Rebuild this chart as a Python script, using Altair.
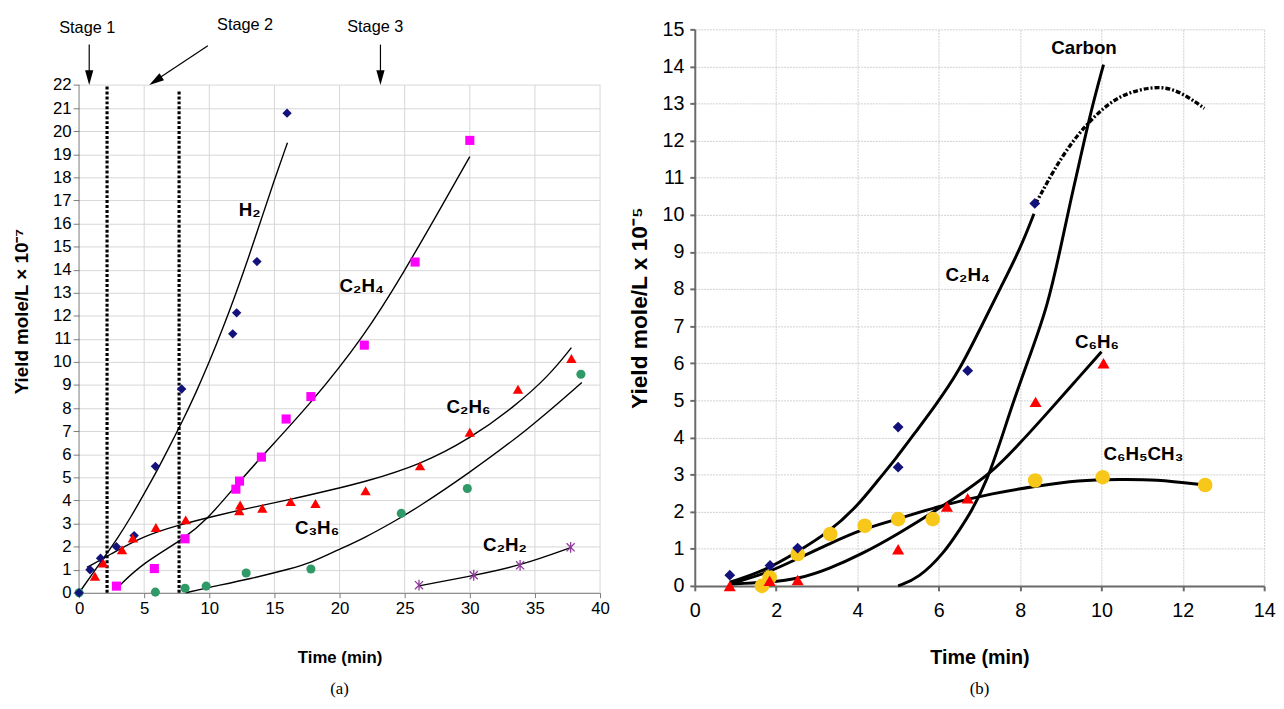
import altair as alt
import pandas as pd

FONT = "Liberation Sans"
SERIF = "Liberation Serif"

NAVY = "#12127a"
MAGENTA = "#ff00ff"
RED = "#ff0000"
GREEN = "#2f9a68"
PURPLE = "#8e3a9a"
YELLOW = "#f7c81a"
GRID = "#d6d6d6"

# ---------------- Panel (a) data ----------------
A_XTICKS = [0, 5, 10, 15, 20, 25, 30, 35, 40]
A_XGRID = [5, 10, 15, 20, 25, 30, 35, 40]
A_YTICKS = list(range(0, 23))
A_YMAX = 22
A_YTOP = 24.41  # room above the frame for the stage annotations

A_H2_X = [0, 0.84, 1.65, 2.87, 4.23, 5.86, 7.88, 11.8, 12.1, 13.66, 15.97]
A_H2_Y = [0, 1.0, 1.5, 2.0, 2.48, 5.48, 8.83, 11.22, 12.13, 14.35, 20.78]

A_C2H4_X = [2.87, 5.78, 8.14, 12.04, 12.32, 14.0, 15.9, 17.8, 21.9, 25.8, 30.0]
A_C2H4_Y = [0.29, 1.05, 2.34, 4.49, 4.84, 5.88, 7.53, 8.5, 10.73, 14.33, 19.6]

A_C2H6_X = [1.22, 1.85, 3.3, 4.13, 5.9, 8.19, 12.3, 12.37, 14.07, 16.25, 18.15, 22.0, 26.18, 30.0, 33.7, 37.8]
A_C2H6_Y = [0.72, 1.29, 1.87, 2.37, 2.83, 3.16, 3.55, 3.8, 3.66, 3.95, 3.87, 4.42, 5.5, 6.96, 8.82, 10.15]

A_C3H6_X = [0, 5.86, 8.14, 9.76, 12.83, 17.8, 24.74, 29.81, 38.53]
A_C3H6_Y = [0, 0.03, 0.2, 0.29, 0.86, 1.03, 3.44, 4.52, 9.47]

A_C2H2_X = [26.1, 30.3, 33.86, 37.74]
A_C2H2_Y = [0.33, 0.76, 1.19, 1.97]

# fitted curves
A_FIT_H2_X = [0, 1, 2, 3, 4, 5, 6, 7, 8, 9, 10, 11, 12, 13, 14, 15, 16]
A_FIT_H2_Y = [0, 0.8, 1.6, 2.4, 3.3, 4.3, 5.3, 6.4, 7.5, 8.7, 10.0, 11.4, 12.9, 14.5, 16.2, 17.9, 19.5]

A_FIT_C2H4_X = [2.9, 4.9, 8.19, 10.0, 11.05, 14.0, 17.8, 21.9, 24.9, 27.96, 30.0]
A_FIT_C2H4_Y = [0.2, 1.3, 2.37, 3.3, 4.0, 5.9, 8.2, 11.12, 13.85, 16.86, 18.9]

A_FIT_C2H6_X = [0.6, 2.36, 4.9, 7.68, 10.2, 13.25, 16.3, 19.3, 21.9, 26.2, 30.0, 33.5, 36.07, 37.8]
A_FIT_C2H6_Y = [1.1, 1.65, 2.45, 2.94, 3.3, 3.7, 4.05, 4.45, 4.8, 5.55, 6.67, 8.1, 9.4, 10.62]

A_FIT_C3H6_X = [8.19, 9.7, 13.25, 16.3, 17.8, 19.85, 21.9, 24.4, 25.9, 29.7, 34.55, 38.6]
A_FIT_C3H6_Y = [0, 0.2, 0.62, 1.05, 1.3, 1.85, 2.37, 3.16, 3.66, 5.09, 7.1, 9.11]

A_FIT_C2H2_X = [26.1, 30.3, 33.9, 37.8]
A_FIT_C2H2_Y = [0.3, 0.75, 1.18, 1.97]

# stage boundaries (dotted) and annotations
A_STAGE_LINE_X = [2.15, 7.68]
A_STAGE_LINE_TOP = [22.0, 21.75]

A_STAGE_TEXT = ["Stage 1", "Stage 2", "Stage 3"]
A_STAGE_TEXT_X = [0.63, 12.75, 22.74]
A_STAGE_TEXT_Y = [24.45, 24.58, 24.5]
A_ARROW_X = [0.78, 9.89, 23.14]
A_ARROW_Y = [23.75, 23.7, 23.75]
A_ARROW_X2 = [0.78, 5.75, 23.14]
A_ARROW_Y2 = [22.25, 22.15, 22.25]
A_HEAD_X = [0.78, 5.87, 23.14]
A_HEAD_Y = [22.32, 22.18, 22.32]
A_HEAD_ANGLE = [180, 236.5, 180]

A_LABELS = ["H\u2082", "C\u2082H\u2084", "C\u2082H\u2086", "C\u2083H\u2086", "C\u2082H\u2082"]
A_LABEL_X = [13.1, 21.7, 29.9, 18.27, 32.7]
A_LABEL_Y = [16.6, 13.27, 8.04, 2.8, 2.08]

# ---------------- Panel (b) data ----------------
B_XTICKS = [0, 2, 4, 6, 8, 10, 12, 14]
B_YTICKS = list(range(0, 16))

B_C2H4_X = [0.86, 1.85, 2.53, 5.0, 5.0, 6.71, 8.36]
B_C2H4_Y = [0.29, 0.55, 1.02, 4.28, 3.2, 5.8, 10.31]

B_C6H6_X = [0.86, 1.84, 2.53, 5.0, 6.2, 6.71, 8.38, 10.05]
B_C6H6_Y = [0, 0.14, 0.16, 0.99, 2.14, 2.36, 4.96, 6.0]

B_TOL_X = [1.65, 1.84, 2.53, 3.33, 4.18, 5.0, 5.85, 8.37, 10.03, 12.55]
B_TOL_Y = [0, 0.23, 0.86, 1.4, 1.62, 1.8, 1.8, 2.84, 2.93, 2.72]

B_FIT_C2H4_X = [0.86, 1.7, 2.5, 3.3, 4.0, 4.52, 4.93, 5.41, 5.9, 6.47, 7.04, 7.53, 8.02, 8.34]
B_FIT_C2H4_Y = [0.1, 0.4, 0.9, 1.45, 2.15, 2.87, 3.41, 4.12, 4.84, 5.73, 6.98, 8.06, 9.13, 10.03]

B_FIT_EXT_X = [8.38, 8.51, 8.82, 9.23, 9.64, 10.05, 10.46, 10.98, 11.6, 12.11, 12.53]
B_FIT_EXT_Y = [10.3, 10.56, 11.19, 11.9, 12.44, 12.89, 13.2, 13.4, 13.47, 13.2, 12.87]

B_FIT_CARBON_X = [5.0, 5.5, 6.14, 6.5, 6.8, 7.2, 7.53, 7.85, 8.26, 8.67, 9.0, 9.24, 9.43, 9.74, 10.05]
B_FIT_CARBON_Y = [0, 0.2, 0.9, 1.5, 2.0, 2.87, 3.94, 5.02, 6.27, 7.52, 9.13, 10.38, 11.28, 12.8, 14.05]

B_FIT_C6H6_X = [0.86, 1.84, 2.56, 3.3, 4.11, 5.0, 5.98, 6.71, 7.28, 7.85, 8.67, 9.32, 10.0]
B_FIT_C6H6_Y = [0.05, 0.1, 0.19, 0.46, 0.86, 1.4, 2.07, 2.6, 3.05, 3.67, 4.66, 5.47, 6.31]

B_FIT_TOL_X = [0.86, 1.84, 2.49, 3.3, 4.11, 5.0, 5.98, 7.38, 8.4, 9.43, 10.46, 11.3, 12.53]
B_FIT_TOL_Y = [0.05, 0.37, 0.72, 1.13, 1.53, 1.8, 2.15, 2.51, 2.69, 2.85, 2.87, 2.87, 2.72]

B_LABELS = ["Carbon", "C\u2082H\u2084", "C\u2086H\u2086", "C\u2086H\u2085CH\u2083"]
B_LABEL_X = [9.57, 6.71, 9.89, 11.03]
B_LABEL_Y = [14.5, 8.37, 6.58, 3.54]

# ---------------- helpers ----------------
XA = alt.Scale(domain=[0, 40], nice=False, zero=False)
YA = alt.Scale(domain=[0, A_YTOP], nice=False, zero=False)
XB = alt.Scale(domain=[0, 14], nice=False, zero=False)
YB = alt.Scale(domain=[0, 15], nice=False, zero=False)

AXA = alt.Axis(values=A_XTICKS, title="Time (min)", grid=False,
               domainColor="#7a7a7a", tickColor="#7a7a7a", tickSize=5, labelFont=FONT,
               labelFontSize=17, labelColor="black", labelPadding=3, labelFlush=False,
               titleFont=FONT, titleFontSize=17, titleFontWeight="bold", titleColor="black",
               titlePadding=34)
AYA = alt.Axis(values=A_YTICKS, title="Yield mole/L \u00d7 10\u207b\u2077", grid=True,
               gridColor=GRID, domain=False, tickColor="#7a7a7a", tickSize=6,
               labelFont=FONT, labelFontSize=17, labelColor="black", labelPadding=2,
               titleFont=FONT, titleFontSize=19, titleFontWeight="bold", titleColor="black",
               titlePadding=21)
AXB = alt.Axis(values=B_XTICKS, title="Time (min)", grid=True, gridColor="#cfcfcf", gridDash=[2, 1],
               domainColor="#6a6a6a", domainWidth=2, tickColor="#6a6a6a", tickWidth=2, tickSize=5,
               labelFont=FONT, labelFontSize=20, labelColor="black", labelPadding=10,
               labelFlush=False, titleFont=FONT, titleFontSize=20, titleFontWeight="bold",
               titleColor="black", titlePadding=28)
AYB = alt.Axis(values=B_YTICKS, title="Yield mole/L x 10\u207b\u2075", grid=True, gridColor="#cfcfcf",
               gridDash=[2, 1], domainColor="#6a6a6a", domainWidth=2, tickColor="#6a6a6a",
               tickWidth=2, tickSize=5, labelFont=FONT, labelFontSize=20, labelColor="black",
               labelPadding=6, titleFont=FONT, titleFontSize=23, titleFontWeight="bold",
               titleColor="black", titlePadding=11)


def enc(chart, xs, ys, xa, ya):
    return chart.encode(x=alt.X("x:Q", scale=xs, axis=xa), y=alt.Y("y:Q", scale=ys, axis=ya))


def points(xv, yv, xs, ys, xa, ya, **mk):
    df = pd.DataFrame({"x": xv, "y": yv})
    return enc(alt.Chart(df).mark_point(**mk), xs, ys, xa, ya)


def curve(xv, yv, xs, ys, xa, ya, width, **mk):
    df = pd.DataFrame({"x": xv, "y": yv, "i": list(range(len(xv)))})
    c = alt.Chart(df).mark_line(color="black", strokeWidth=width, interpolate="basis", **mk)
    return enc(c, xs, ys, xa, ya).encode(order="i:Q")


def labels(txt, xv, yv, xs, ys, xa, ya, size):
    df = pd.DataFrame({"x": xv, "y": yv, "t": txt})
    c = alt.Chart(df).mark_text(font=FONT, fontSize=size, fontWeight="bold", color="black")
    return enc(c, xs, ys, xa, ya).encode(text="t:N")


A = dict(xs=XA, ys=YA, xa=AXA, ya=AYA)
B = dict(xs=XB, ys=YB, xa=AXB, ya=AYB)

ASTER = "M-0.75,-0.75L0.75,0.75M-0.75,0.75L0.75,-0.75M0,-1L0,1"
HEAD = "M0,-1L0.55,1L-0.55,1Z"

# ---------------- Panel (a) ----------------
vgrid = alt.Chart(pd.DataFrame({"x": A_XGRID, "y": [0] * len(A_XGRID), "y2": [A_YMAX] * len(A_XGRID)})).mark_rule(
    color=GRID, strokeWidth=1
).encode(x=alt.X("x:Q", scale=XA, axis=AXA), y=alt.Y("y:Q", scale=YA, axis=AYA), y2="y2:Q")

yframe = alt.Chart(pd.DataFrame({"x": [0], "y": [0], "y2": [A_YMAX]})).mark_rule(
    color="#7a7a7a", strokeWidth=1
).encode(x=alt.X("x:Q", scale=XA, axis=AXA), y=alt.Y("y:Q", scale=YA, axis=AYA), y2="y2:Q")

stage_lines = alt.Chart(pd.DataFrame({"x": A_STAGE_LINE_X, "y": [0, 0], "y2": A_STAGE_LINE_TOP})).mark_rule(
    color="black", strokeWidth=3.2, strokeDash=[3, 2]
).encode(x=alt.X("x:Q", scale=XA, axis=AXA), y=alt.Y("y:Q", scale=YA, axis=AYA), y2="y2:Q")

arrows = alt.Chart(pd.DataFrame({"x": A_ARROW_X, "y": A_ARROW_Y, "x2": A_ARROW_X2, "y2": A_ARROW_Y2})).mark_rule(
    color="black", strokeWidth=1.2
).encode(x=alt.X("x:Q", scale=XA, axis=AXA), y=alt.Y("y:Q", scale=YA, axis=AYA), x2="x2:Q", y2="y2:Q")

heads = alt.Chart(pd.DataFrame({"x": A_HEAD_X, "y": A_HEAD_Y, "a": A_HEAD_ANGLE})).mark_point(
    shape=HEAD, filled=True, color="black", size=230, opacity=1
).encode(x=alt.X("x:Q", scale=XA, axis=AXA), y=alt.Y("y:Q", scale=YA, axis=AYA),
         angle=alt.Angle("a:Q", scale=None))

stage_text = alt.Chart(pd.DataFrame({"x": A_STAGE_TEXT_X, "y": A_STAGE_TEXT_Y, "t": A_STAGE_TEXT})).mark_text(
    font=FONT, fontSize=16.5, color="black"
).encode(x=alt.X("x:Q", scale=XA, axis=AXA), y=alt.Y("y:Q", scale=YA, axis=AYA), text="t:N")

panel_a = alt.layer(
    vgrid, yframe, stage_lines,
    curve(A_FIT_H2_X, A_FIT_H2_Y, width=1.4, **A),
    curve(A_FIT_C2H4_X, A_FIT_C2H4_Y, width=1.4, **A),
    curve(A_FIT_C2H6_X, A_FIT_C2H6_Y, width=1.4, **A),
    curve(A_FIT_C3H6_X, A_FIT_C3H6_Y, width=1.4, **A),
    curve(A_FIT_C2H2_X, A_FIT_C2H2_Y, width=1.4, **A),
    points(A_C3H6_X, A_C3H6_Y, shape="circle", filled=True, color=GREEN, size=85, opacity=1, **A),
    points(A_H2_X, A_H2_Y, shape="diamond", filled=True, color=NAVY, size=90, opacity=1, **A),
    points(A_C2H4_X, A_C2H4_Y, shape="square", filled=True, color=MAGENTA, size=85, opacity=1, **A),
    points(A_C2H6_X, A_C2H6_Y, shape="triangle-up", filled=True, color=RED, size=110, opacity=1, **A),
    points(A_C2H2_X, A_C2H2_Y, shape=ASTER, filled=False, color=PURPLE, size=120, strokeWidth=1.3, opacity=1, **A),
    labels(A_LABELS, A_LABEL_X, A_LABEL_Y, size=19, **A),
    arrows, heads, stage_text,
).properties(
    width=528, height=571,
    title=alt.TitleParams("(a)", orient="bottom", font=SERIF, fontSize=17, fontWeight="normal",
                          color="black", offset=16),
)

# ---------------- Panel (b) ----------------
panel_b = alt.layer(
    curve(B_FIT_C2H4_X, B_FIT_C2H4_Y, width=3, **B),
    curve(B_FIT_EXT_X, B_FIT_EXT_Y, width=3.4, strokeDash=[5, 2, 2, 2], **B),
    curve(B_FIT_CARBON_X, B_FIT_CARBON_Y, width=3, **B),
    curve(B_FIT_C6H6_X, B_FIT_C6H6_Y, width=3, **B),
    curve(B_FIT_TOL_X, B_FIT_TOL_Y, width=3, **B),
    points(B_TOL_X, B_TOL_Y, shape="circle", filled=True, color=YELLOW, size=220, opacity=1, **B),
    points(B_C2H4_X, B_C2H4_Y, shape="diamond", filled=True, color=NAVY, size=120, opacity=1, **B),
    points(B_C6H6_X, B_C6H6_Y, shape="triangle-up", filled=True, color=RED, size=150, opacity=1, **B),
    labels(B_LABELS, B_LABEL_X, B_LABEL_Y, size=19, **B),
).properties(
    width=577, height=564,
    title=alt.TitleParams("(b)", orient="bottom", font=SERIF, fontSize=17, fontWeight="normal",
                          color="black", offset=14),
)

chart = alt.hconcat(panel_a, panel_b, spacing=18).properties(
    padding={"left": 5, "top": 5, "right": 0, "bottom": 0},
    background="white",
).configure_view(stroke=None)

chart.save("out.html", embed_options={"renderer": "svg", "actions": False})
